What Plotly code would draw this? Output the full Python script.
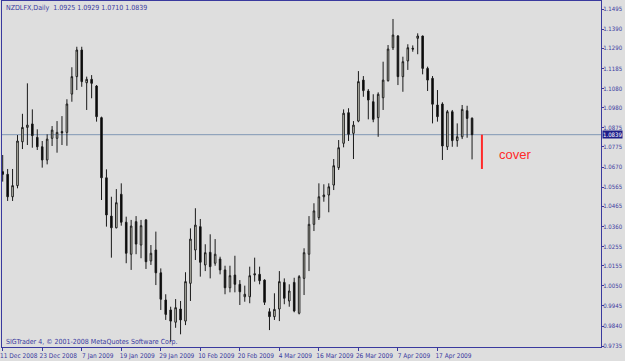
import plotly.graph_objects as go

symbol_text = "NZDLFX,Daily  1.0925 1.0929 1.0710 1.0839"
copyright_text = "SIGTrader 4, © 2001-2008 MetaQuotes Software Corp."

opens = [1.0646, 1.0632, 1.0515, 1.0573, 1.0802, 1.0877, 1.0895, 1.0825, 1.0776, 1.0707,
         1.0820, 1.0820, 1.0855, 1.0851, 1.1051, 1.1142, 1.1281, 1.1110, 1.1128, 1.1093,
         1.0928, 1.0614, 1.0414, 1.0353, 1.0528, 1.0382, 1.0215, 1.0385, 1.0263, 1.0394,
         1.0180, 1.0237, 1.0118, 0.9976, 0.9924, 0.9860, 0.9929, 0.9866, 1.0063, 1.0237,
         1.0359, 1.0159, 1.0225, 1.0168, 1.0190, 1.0133, 1.0040, 1.0106, 1.0058, 0.9993,
         0.9993, 1.0113, 1.0110, 1.0080, 0.9915, 0.9889, 0.9929, 1.0068, 0.9971, 1.0068,
         0.9907, 1.0089, 1.0215, 1.0371, 1.0406, 1.0515, 1.0524, 1.0576, 1.0667, 1.0794,
         1.0954, 1.0846, 1.0910, 1.1124, 1.1067, 1.1011, 1.0928, 1.1032, 1.1121, 1.1293,
         1.1354, 1.1142, 1.1224, 1.1290, 1.1342, 1.1354, 1.1185, 1.1133, 1.0994, 1.0999,
         1.0776, 1.0959, 1.0808, 1.0828, 1.0964, 1.0925]
highs = [1.0733, 1.0660, 1.0660, 1.0837, 1.0948, 1.1107, 1.0971, 1.0867, 1.0806, 1.0841,
         1.0884, 1.0910, 1.0936, 1.1024, 1.1191, 1.1298, 1.1298, 1.1142, 1.1150, 1.1098,
         1.0933, 1.0658, 1.0515, 1.0555, 1.0585, 1.0411, 1.0394, 1.0414, 1.0394, 1.0399,
         1.0263, 1.0333, 1.0141, 1.0006, 0.9941, 0.9981, 0.9971, 1.0121, 1.0350, 1.0455,
         1.0399, 1.0267, 1.0319, 1.0294, 1.0202, 1.0155, 1.0155, 1.0207, 1.0080, 1.0051,
         1.0150, 1.0197, 1.0150, 1.0084, 0.9933, 1.0011, 1.0127, 1.0089, 1.0058, 1.0092,
         1.0106, 1.0246, 1.0414, 1.0481, 1.0585, 1.0580, 1.0585, 1.0712, 1.0811, 1.0971,
         1.0977, 1.0910, 1.1171, 1.1145, 1.1077, 1.1050, 1.1060, 1.1220, 1.1307, 1.1443,
         1.1359, 1.1246, 1.1311, 1.1305, 1.1368, 1.1356, 1.1194, 1.1145, 1.1072, 1.1008,
         1.0968, 1.0968, 1.0898, 1.0994, 1.0990, 1.0929]
lows = [1.0594, 1.0493, 1.0493, 1.0559, 1.0764, 1.0785, 1.0771, 1.0759, 1.0667, 1.0684,
        1.0780, 1.0745, 1.0785, 1.0781, 1.1011, 1.1072, 1.1089, 1.0968, 1.1029, 1.0907,
        1.0498, 1.0359, 1.0197, 1.0350, 1.0364, 1.0168, 1.0133, 1.0215, 1.0194, 1.0138,
        1.0159, 1.0054, 0.9924, 0.9872, 0.9758, 0.9831, 0.9797, 0.9845, 0.9971, 1.0185,
        1.0098, 1.0127, 1.0089, 1.0155, 1.0110, 1.0006, 1.0016, 1.0016, 0.9950, 0.9967,
        0.9959, 1.0072, 1.0058, 0.9950, 0.9819, 0.9872, 0.9866, 0.9954, 0.9941, 0.9912,
        0.9901, 1.0002, 1.0127, 1.0336, 1.0394, 1.0489, 1.0434, 1.0550, 1.0655, 1.0773,
        1.0806, 1.0712, 1.0904, 1.1037, 1.0919, 1.0904, 1.0828, 1.0968, 1.1116, 1.1281,
        1.1098, 1.1063, 1.1177, 1.1272, 1.1259, 1.1154, 1.1067, 1.0898, 1.0907, 1.0707,
        1.0759, 1.0776, 1.0776, 1.0816, 1.0823, 1.0710]
closes = [1.0632, 1.0515, 1.0573, 1.0806, 1.0877, 1.0889, 1.0834, 1.0776, 1.0707, 1.0816,
          1.0863, 1.0851, 1.0849, 1.0999, 1.1142, 1.1281, 1.1116, 1.1128, 1.1107, 1.0933,
          1.0614, 1.0420, 1.0353, 1.0484, 1.0382, 1.0220, 1.0362, 1.0268, 1.0364, 1.0176,
          1.0220, 1.0118, 0.9980, 0.9901, 0.9866, 0.9936, 0.9872, 1.0072, 1.0294, 1.0367,
          1.0173, 1.0223, 1.0150, 1.0215, 1.0133, 1.0040, 1.0103, 1.0058, 1.0019, 1.0006,
          1.0103, 1.0108, 1.0077, 0.9964, 0.9889, 0.9927, 1.0072, 0.9985, 1.0023, 0.9919,
          1.0098, 1.0223, 1.0371, 1.0441, 1.0515, 1.0524, 1.0567, 1.0677, 1.0771, 1.0951,
          1.0841, 1.0889, 1.1116, 1.1069, 1.1020, 1.0919, 1.1050, 1.1124, 1.1286, 1.1359,
          1.1142, 1.1220, 1.1293, 1.1286, 1.1354, 1.1185, 1.1124, 1.0998, 1.0933, 1.0780,
          1.0959, 1.0808, 1.0828, 1.0971, 1.0924, 1.0839]

date_tick_bars = [0, 8, 16, 24, 32, 40, 48, 56, 64, 72, 80, 88]
date_tick_labels = ["11 Dec 2008", "23 Dec 2008", "7 Jan 2009", "19 Jan 2009", "29 Jan 2009",
                    "10 Feb 2009", "20 Feb 2009", "4 Mar 2009", "16 Mar 2009", "26 Mar 2009",
                    "7 Apr 2009", "17 Apr 2009"]
price_ticks = [1.1495, 1.1390, 1.1290, 1.1185, 1.1080, 1.0980, 1.0875, 1.0775, 1.0670,
               1.0565, 1.0465, 1.0360, 1.0255, 1.0155, 1.0050, 0.9945, 0.9840, 0.9735]
price_tick_labels = ["%.4f" % v for v in price_ticks]

cover_bar = 97
cover_top = 1.0839
cover_bottom = 1.0660
cover_label_bar = 100
cover_label_price = 1.0738

bars = list(range(len(opens)))
last_close = closes[-1]

NAVY = "#3a3a9e"
BG = "#dedede"
FONT = "Liberation Sans Narrow, Arial Narrow, DejaVu Sans Condensed, Liberation Sans, sans-serif"

fig = go.Figure(go.Candlestick(
    x=bars, open=opens, high=highs, low=lows, close=closes,
    increasing=dict(fillcolor="#f4f4e4", line=dict(color="#1a1a1a", width=1)),
    decreasing=dict(fillcolor="#000000", line=dict(color="#1a1a1a", width=1)),
    whiskerwidth=0, showlegend=False, hoverinfo="skip",
))

fig.update_layout(
    template="none",
    width=625, height=361,
    margin=dict(l=2, r=24, t=1, b=14),
    paper_bgcolor=BG, plot_bgcolor=BG,
    showlegend=False,
    boxgap=0.55,
    font=dict(family=FONT, size=7, color=NAVY),
    xaxis=dict(
        range=[-0.14, 121.1], rangeslider=dict(visible=False),
        tickmode="array", tickvals=date_tick_bars, ticktext=date_tick_labels,
        tickangle=0,
        ticks="outside", ticklen=3, tickcolor=NAVY, tickwidth=1,
        ticklabelshift=16, ticklabelstandoff=-1,
        showline=True, linecolor=NAVY, linewidth=1, mirror=True,
        showgrid=False, zeroline=False,
        tickfont=dict(family=FONT, size=6.5, color=NAVY),
    ),
    yaxis=dict(
        side="right", range=[0.97307, 1.15368],
        tickmode="array", tickvals=price_ticks, ticktext=price_tick_labels,
        ticks="outside", ticklen=2, tickcolor=NAVY, tickwidth=1,
        ticklabelstandoff=-2,
        showline=True, linecolor=NAVY, linewidth=1, mirror=True,
        showgrid=False, zeroline=False,
        tickfont=dict(family=FONT, size=6, color=NAVY),
    ),
)

fig.add_shape(type="line", xref="paper", x0=0, x1=1, yref="y", y0=last_close, y1=last_close,
              line=dict(color="#8098b4", width=1), layer="below")
fig.add_shape(type="line", xref="x", x0=cover_bar, x1=cover_bar, yref="y",
              y0=cover_top, y1=cover_bottom, line=dict(color="#ff2a2a", width=2))

fig.add_annotation(text="cover", x=cover_label_bar, y=cover_label_price, xref="x", yref="y",
                   xanchor="left", yanchor="middle", showarrow=False,
                   font=dict(family="Liberation Sans, Arial, sans-serif", size=13, color="#ff2a2a"))
fig.add_annotation(text=symbol_text, xref="paper", yref="paper", x=0, y=1,
                   xanchor="left", yanchor="top", xshift=2, yshift=-1, showarrow=False,
                   font=dict(family=FONT, size=7, color=NAVY))
fig.add_annotation(text=copyright_text, xref="paper", yref="paper", x=0, y=0,
                   xanchor="left", yanchor="bottom", xshift=2, yshift=-1, showarrow=False,
                   font=dict(family=FONT, size=7, color=NAVY))
fig.add_annotation(text="%.4f" % last_close, xref="paper", yref="y", x=1, y=last_close,
                   xanchor="left", yanchor="middle", xshift=1, showarrow=False,
                   bgcolor="#1e1e8a", borderpad=0,
                   font=dict(family=FONT, size=6, color="#ffffff"))

fig.write_html("out.html")
